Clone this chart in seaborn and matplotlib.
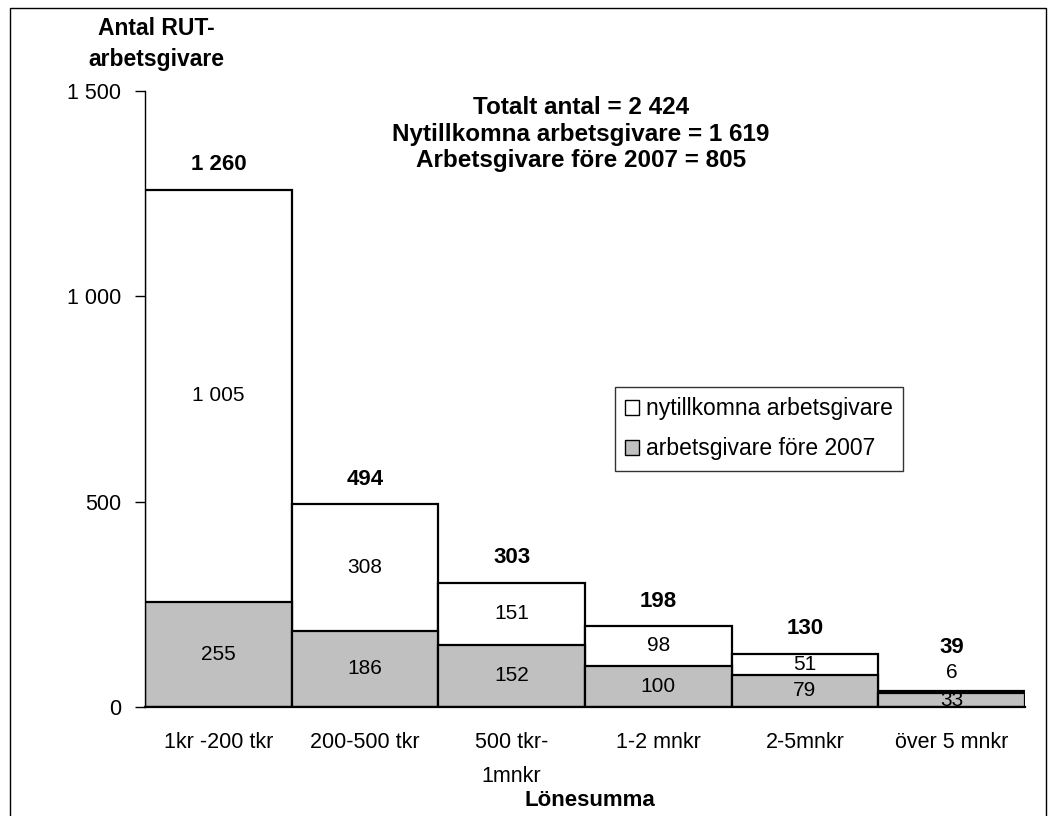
import matplotlib
matplotlib.use("Agg")
import matplotlib.pyplot as plt
import seaborn as sns
import pandas as pd
from matplotlib.patches import Patch, Rectangle
from matplotlib.ticker import FuncFormatter

categories = ["1kr -200 tkr", "200-500 tkr", "500 tkr-\n1mnkr", "1-2 mnkr", "2-5mnkr", "över 5 mnkr"]
nya = [1005, 308, 151, 98, 51, 6]
fore_2007 = [255, 186, 152, 100, 79, 33]
totals = [n + f for n, f in zip(nya, fore_2007)]

sns.set_theme(style="white")
plt.rcParams['font.family'] = ['Liberation Sans', 'DejaVu Sans']
plt.rcParams.update({"text.color": "black", "axes.labelcolor": "black",
                     "xtick.color": "black", "ytick.color": "black"})

def fmt(v):
    return f"{int(v):,}".replace(",", " ")

df = pd.DataFrame({"cat": categories, "nya": nya, "fore": fore_2007, "total": totals})

fig = plt.figure(figsize=(10.56, 8.16), dpi=100)
ax = fig.add_axes([145/1056, 1-707/816, 880/1056, 616/816])

sns.barplot(data=df, x="cat", y="total", color="white", edgecolor="black",
            linewidth=1.6, width=1.0, saturation=1, ax=ax, order=categories)
sns.barplot(data=df, x="cat", y="fore", color="#C0C0C0", edgecolor="black",
            linewidth=1.6, width=1.0, saturation=1, ax=ax, order=categories)

ax.set_xlim(-0.5, len(categories) - 0.5)
ax.set_ylim(0, 1500)
ax.set_yticks([0, 500, 1000, 1500])
ax.yaxis.set_major_formatter(FuncFormatter(lambda v, p: fmt(v)))
ax.tick_params(axis="y", left=True, length=7, width=1, direction="out", labelsize=15.5, pad=10, color="black")
ax.tick_params(axis="x", bottom=False, labelsize=15.5, pad=12)
for lbl in ax.get_xticklabels():
    lbl.set_linespacing(1.8)
for s in ["top", "right"]:
    ax.spines[s].set_visible(False)
ax.spines["left"].set_color("black")
ax.spines["bottom"].set_color("black")
ax.spines["left"].set_linewidth(1)
ax.spines["bottom"].set_linewidth(1.6)
ax.set_xlabel("")
ax.set_ylabel("")
fig.text(590/1056, 1-800/816, "Lönesumma", ha="center", va="center",
         fontsize=16, fontweight="bold")

for i, (n, f, t) in enumerate(zip(nya, fore_2007, totals)):
    ax.text(i, f / 2, fmt(f), ha="center", va="center", fontsize=15)
    if n >= 30:
        ax.text(i, f + n / 2, fmt(n), ha="center", va="center", fontsize=15)
        off = 60
    else:
        ax.text(i, t + 45, fmt(n), ha="center", va="center", fontsize=15)
        off = 105
    ax.text(i, t + off, fmt(t), ha="center", va="center", fontsize=16, fontweight="bold")

fig.text(156/1056, 1-44/816, "Antal RUT-\narbetsgivare", ha="center", va="center",
         fontsize=16.5, fontweight="bold", linespacing=1.45)

tot_all = sum(totals)
fig.text(581/1056, 1-134/816,
         f"Totalt antal = {fmt(tot_all)}\nNytillkomna arbetsgivare = {fmt(sum(nya))}\nArbetsgivare före 2007 = {fmt(sum(fore_2007))}",
         ha="center", va="center", fontsize=17.5, fontweight="bold", linespacing=1.2)

handles = [Patch(facecolor="white", edgecolor="black", linewidth=1),
           Patch(facecolor="#C0C0C0", edgecolor="black", linewidth=1)]
leg = fig.legend(handles, ["nytillkomna arbetsgivare", "arbetsgivare före 2007"],
                 loc="upper left", bbox_to_anchor=(615/1056, 1-387/816),
                 fontsize=16.5, frameon=True, fancybox=False, edgecolor="black",
                 handlelength=0.6, handleheight=0.6, handletextpad=0.3,
                 borderpad=0.45, labelspacing=0.75, borderaxespad=0)
leg.get_frame().set_linewidth(1)

fig.patches.append(Rectangle((10/1056, -0.01), 1036/1056, 1.01 - 8/816,
                             transform=fig.transFigure, fill=False,
                             edgecolor="black", linewidth=1))

fig.savefig("out.png", dpi=100, facecolor="white")
